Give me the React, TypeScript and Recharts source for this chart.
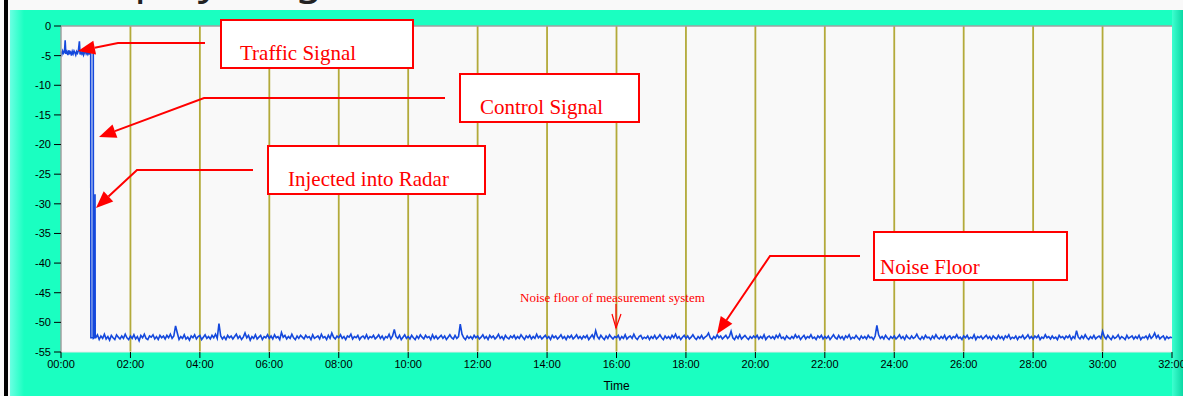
import React from "react";
import {
  LineChart,
  Line,
  XAxis,
  YAxis,
  CartesianGrid,
  ReferenceLine,
} from "recharts";

// traffic signal before the cut-over (minutes, dB)
const headTimes = [
  0, 0.025, 0.05, 0.075, 0.1, 0.12, 0.14, 0.17, 0.2, 0.225, 0.25, 0.275, 0.3, 0.325, 0.35, 0.375,
  0.4, 0.425, 0.45, 0.475, 0.5, 0.53, 0.55, 0.575, 0.6, 0.625, 0.65, 0.675, 0.7, 0.725, 0.75,
  0.775, 0.8, 0.83, 0.855, 0.86, 0.925, 0.93, 0.935, 0.975, 0.98, 0.985,
];
const headLevels = [
  -4.3, -4.8, -4.2, -4.6, -4.4, -2.4, -4.7, -4.3, -4.9, -4.1, -4.6, -4.4, -5.0, -4.3, -4.7, -4.2,
  -4.5, -4.9, -4.3, -4.6, -4.2, -2.6, -4.8, -4.4, -4.7, -4.3, -4.9, -4.5, -4.2, -4.7, -4.4,
  -4.8, -4.5, -4.7, -4.6, -52.6, -52.6, -4.6, -52.7, -52.5, -28.4, -52.6,
];

// noise floor, one reading every 0.05 min from 1:00 to 32:00 (one row per minute)
const FLOOR_START = 1.0;
const FLOOR_STEP = 0.05;
const floorLevels = [
  -52.6, -52.1, -52.9, -52.3, -52.7, -52.0, -52.8, -52.4, -53.0, -52.2, -52.6, -52.9, -52.1, -52.5, -52.8, -52.3, -52.7, -52.0, -52.6, -52.9,
  -52.3, -52.7, -52.1, -52.8, -52.4, -53.1, -52.2, -52.6, -52.0, -52.7, -52.9, -52.3, -52.5, -52.1, -52.8, -52.4, -52.9, -52.2, -52.6, -52.3,
  -52.8, -52.2, -52.6, -52.0, -52.7, -52.3, -50.6, -51.8, -52.9, -52.4, -52.7, -52.1, -52.8, -52.5, -53.0, -52.3, -52.6, -52.1, -52.8, -52.4,
  -52.2, -52.9, -52.5, -52.1, -52.7, -52.4, -52.8, -52.2, -52.6, -52.0, -52.7, -50.2, -52.3, -52.8, -52.4, -52.9, -52.2, -52.6, -52.3, -52.8,
  -52.4, -52.0, -52.7, -52.3, -52.9, -52.5, -51.8, -52.6, -52.2, -53.0, -52.4, -52.7, -52.1, -52.8, -52.5, -52.2, -52.9, -52.4, -52.6, -52.1,
  -52.7, -52.3, -52.8, -52.1, -52.6, -52.4, -52.9, -51.7, -52.5, -52.2, -52.8, -52.4, -52.7, -52.0, -52.6, -52.9, -52.3, -52.7, -52.2, -52.5,
  -52.8, -52.2, -52.6, -52.4, -52.9, -52.1, -52.7, -52.5, -52.3, -52.8, -52.0, -52.6, -52.4, -52.9, -52.2, -52.7, -51.8, -52.5, -52.8, -52.3,
  -52.6, -52.1, -52.7, -52.4, -52.9, -52.3, -52.5, -52.0, -52.8, -52.4, -52.6, -52.2, -52.9, -52.5, -52.3, -52.7, -52.1, -52.8, -52.4, -52.6,
  -52.2, -52.8, -52.5, -52.1, -52.7, -52.3, -52.9, -52.4, -52.6, -52.0, -52.8, -52.3, -51.2, -52.4, -52.7, -52.2, -52.9, -52.5, -52.1, -52.7,
  -52.4, -52.8, -52.2, -52.6, -52.9, -52.3, -52.7, -52.1, -52.5, -52.8, -52.2, -52.6, -52.4, -52.9, -52.1, -52.7, -52.3, -52.8, -52.5, -52.2,
  -52.7, -52.3, -52.9, -52.5, -52.1, -52.6, -52.8, -52.2, -52.7, -52.4, -50.3, -52.0, -52.6, -52.9, -52.3, -52.7, -52.4, -52.8, -52.2, -52.6,
  -52.3, -52.8, -52.5, -52.1, -52.7, -52.4, -52.9, -52.2, -52.6, -52.3, -52.8, -52.5, -52.0, -52.7, -52.4, -52.9, -52.2, -52.6, -52.8, -52.3,
  -52.6, -52.2, -52.8, -52.4, -52.7, -52.1, -52.5, -52.9, -52.3, -52.6, -52.2, -52.8, -52.4, -52.7, -52.0, -52.6, -52.3, -52.8, -52.5, -52.2,
  -52.7, -52.4, -52.9, -52.2, -52.6, -52.3, -52.8, -52.5, -52.1, -52.7, -52.4, -52.9, -52.3, -52.6, -52.2, -52.8, -52.5, -52.1, -52.7, -52.4,
  -52.8, -52.3, -52.6, -52.2, -52.9, -52.5, -52.1, -52.7, -51.4, -52.4, -52.8, -52.2, -52.6, -52.9, -52.3, -52.7, -52.1, -52.5, -52.8, -52.4,
  -52.6, -52.2, -52.9, -52.4, -52.7, -52.1, -52.8, -52.5, -52.3, -52.7, -52.0, -52.6, -52.9, -52.4, -52.2, -52.8, -52.5, -52.7, -52.3, -52.9,
  -52.4, -52.7, -52.2, -52.8, -52.5, -52.1, -52.6, -52.9, -52.3, -52.7, -52.4, -52.8, -52.2, -52.6, -52.0, -52.7, -52.4, -52.9, -52.5, -52.2,
  -52.7, -52.3, -52.8, -52.5, -52.1, -52.6, -52.9, -52.4, -52.7, -52.2, -52.8, -52.5, -52.3, -51.8, -52.6, -52.9, -52.4, -52.7, -52.1, -52.6,
  -52.3, -52.8, -52.5, -52.2, -52.7, -52.4, -51.5, -52.6, -52.9, -52.3, -52.7, -52.1, -52.8, -52.5, -52.2, -52.6, -52.9, -52.4, -52.7, -52.3,
  -52.6, -52.2, -52.8, -52.4, -52.7, -52.1, -52.9, -52.5, -52.3, -52.7, -52.4, -52.8, -52.2, -52.6, -52.0, -52.7, -52.5, -52.9, -52.3, -52.6,
  -52.8, -52.4, -52.7, -52.1, -52.6, -52.3, -52.9, -52.5, -52.2, -52.8, -52.4, -52.6, -52.1, -52.7, -52.5, -52.9, -52.3, -52.6, -52.2, -52.8,
  -52.4, -52.7, -52.3, -52.9, -52.5, -52.1, -52.6, -52.8, -52.2, -52.7, -52.4, -52.9, -52.3, -52.6, -52.1, -52.8, -52.5, -52.7, -52.2, -52.6,
  -52.9, -52.3, -52.7, -52.4, -52.8, -52.2, -52.6, -52.5, -52.9, -52.3, -50.5, -52.1, -52.7, -52.4, -52.8, -52.2, -52.6, -52.9, -52.4, -52.7,
  -52.3, -52.8, -52.5, -52.1, -52.7, -52.4, -52.9, -52.2, -52.6, -52.8, -52.3, -52.7, -52.5, -52.0, -52.6, -52.9, -52.4, -52.8, -52.2, -52.6,
  -52.5, -52.9, -52.3, -52.7, -52.1, -52.6, -52.8, -52.4, -52.7, -52.2, -52.9, -52.5, -52.3, -52.8, -52.4, -52.6, -52.1, -52.7, -52.5, -52.9,
  -52.3, -52.6, -52.2, -52.8, -52.5, -52.7, -52.1, -52.9, -52.4, -52.6, -52.3, -52.8, -52.5, -52.2, -52.7, -52.4, -52.9, -52.3, -52.6, -52.8,
  -52.2, -52.7, -52.4, -52.9, -52.3, -52.6, -52.1, -52.8, -52.5, -52.7, -52.3, -52.9, -52.4, -52.6, -52.2, -52.8, -52.5, -52.1, -52.7, -52.4,
  -52.8, -52.3, -52.6, -52.2, -52.9, -52.5, -52.7, -52.1, -52.6, -52.4, -52.8, -52.3, -52.7, -52.5, -52.9, -52.2, -52.6, -52.4, -52.8, -52.3,
  -52.6, -52.2, -52.9, -52.4, -52.7, -51.4, -52.5, -52.8, -52.3, -52.7, -52.1, -52.6, -52.9, -52.4, -52.7, -52.2, -52.8, -52.5, -52.3, -52.7,
  -51.5, -52.4, -52.8, -52.2, -52.6, -52.9, -52.3, -52.7, -52.5, -52.1, -52.8, -52.4, -52.6, -52.9, -52.2, -52.7, -52.5, -52.3, -52.8, -52.4,
  -52.7, -52.2, -52.9, -52.5, -52.6, -52.3, -52.8, -52.1, -52.7, -52.4, -51.8, -52.6, -52.2, -52.8, -52.5, -52.3, -52.9, -52.4, -52.7, -52.5,
  -52.6,
];

const timeTicks = [0, 2, 4, 6, 8, 10, 12, 14, 16, 18, 20, 22, 24, 26, 28, 30, 32];
const levelTicks = [0, -5, -10, -15, -20, -25, -30, -35, -40, -45, -50, -55];

const data = [
  ...headTimes.map((t, i) => ({ t, v: headLevels[i] })),
  ...floorLevels.map((v, i) => ({ t: +(FLOOR_START + i * FLOOR_STEP).toFixed(3), v })),
];

const fmtTime = (m: number) => `${String(m).padStart(2, "0")}:00`;

const RED = "#ff0000";
const serif = "'Liberation Serif', 'Times New Roman', serif";
const sans = "'Liberation Sans', Arial, sans-serif";

function Arrow({ pts, len = 17, half = 7 }: { pts: number[][]; len?: number; half?: number }) {
  const [x1, y1] = pts[pts.length - 2];
  const [x2, y2] = pts[pts.length - 1];
  const a = Math.atan2(y2 - y1, x2 - x1);
  const bx = x2 - len * Math.cos(a);
  const by = y2 - len * Math.sin(a);
  const nx = -Math.sin(a) * half;
  const ny = Math.cos(a) * half;
  const line = [...pts.slice(0, -1), [bx, by]].map((p) => p.join(",")).join(" ");
  return (
    <g>
      <polyline points={line} fill="none" stroke={RED} strokeWidth={2} />
      <polygon points={`${x2},${y2} ${bx + nx},${by + ny} ${bx - nx},${by - ny}`} fill={RED} />
    </g>
  );
}

function Note({ x, y, w, h, tx, ty, text }: { x: number; y: number; w: number; h: number; tx: number; ty: number; text: string }) {
  return (
    <g>
      <rect x={x} y={y} width={w} height={h} fill="#ffffff" stroke={RED} strokeWidth={2} />
      <text x={tx} y={ty} fill={RED} fontSize={21} fontFamily={serif}>
        {text}
      </text>
    </g>
  );
}

export default function App() {
  return (
    <div style={{ position: "absolute", left: 0, top: 0, width: 1183, height: 396, background: "#f9f9f9", overflow: "hidden" }}>
      {/* window chrome behind the chart */}
      <svg width={1183} height={396} style={{ position: "absolute", left: 0, top: 0 }}>
        <defs>
          <linearGradient id="leftEdge" x1="0" y1="0" x2="1" y2="0">
            <stop offset="0%" stopColor="#6affe2" />
            <stop offset="100%" stopColor="#1affc1" />
          </linearGradient>
          <linearGradient id="rightEdge" x1="0" y1="0" x2="1" y2="0">
            <stop offset="0%" stopColor="#3dffd0" />
            <stop offset="100%" stopColor="#0cd9a4" />
          </linearGradient>
        </defs>
        <text x={70} y={-7} fontSize={44} fontFamily="'Noto Sans', sans-serif" fill="#222" style={{ wordSpacing: 14 }}>
          Display Log
        </text>
        <rect x={4} y={0} width={4} height={396} fill="#000" />
        <rect x={10} y={10} width={1173} height={386} fill="#1affc1" />
        <rect x={10} y={10} width={14} height={386} fill="url(#leftEdge)" />
        <rect x={1172} y={10} width={11} height={386} fill="url(#rightEdge)" />
      </svg>

      <div style={{ position: "absolute", left: 0, top: 0 }}>
        <LineChart width={1183} height={396} data={data} margin={{ top: 26, right: 11, bottom: 8, left: 11 }}>
          <CartesianGrid horizontal={false} vertical={false} fill="#f9f9f9" />
          {timeTicks.slice(1, -1).map((t) => (
            <ReferenceLine key={t} x={t} stroke="#b3aa3a" strokeWidth={1.8} />
          ))}
          <ReferenceLine y={0} stroke="#a0a0a0" strokeWidth={1.5} />
          <XAxis
            dataKey="t"
            type="number"
            domain={[0, 32]}
            ticks={timeTicks}
            tickFormatter={fmtTime}
            height={36}
            axisLine={{ stroke: "#e8e8e8" }}
            tickLine={{ stroke: "#000" }}
            tickSize={6}
            tickMargin={2}
            tick={{ fill: "#000", fontSize: 11, fontFamily: sans }}
            interval={0}
            label={{ value: "Time", position: "insideBottom", offset: -2, fill: "#000", fontSize: 12, fontFamily: sans }}
          />
          <YAxis
            type="number"
            domain={[-55, 0]}
            ticks={levelTicks}
            width={50}
            axisLine={{ stroke: "#a0a0a0", strokeWidth: 1.5 }}
            tickLine={{ stroke: "#000" }}
            tickSize={7}
            tickMargin={3}
            tick={{ fill: "#000", fontSize: 11, fontFamily: sans }}
            interval={0}
          />
          <Line
            type="linear"
            dataKey="v"
            stroke="#1448dc"
            strokeWidth={1.6}
            dot={false}
            isAnimationActive={false}
          />
        </LineChart>
      </div>

      {/* red call-outs laid over the plot */}
      <svg width={1183} height={396} style={{ position: "absolute", left: 0, top: 0, pointerEvents: "none" }}>
        <Arrow pts={[[205, 43], [118, 43], [78, 51]]} />
        <Note x={221} y={20} w={192} h={48} tx={240} ty={60} text="Traffic Signal" />

        <Arrow pts={[[445, 98], [204, 98], [99, 137]]} />
        <Note x={460} y={74} w={179} h={48} tx={480} ty={114} text="Control Signal" />

        <Arrow pts={[[253, 170], [137, 170], [96, 208]]} />
        <Note x={268} y={146} w={217} h={48} tx={288} ty={186} text="Injected into Radar" />

        <Arrow pts={[[860, 256], [770, 256], [717, 334]]} />
        <Note x={874} y={232} w={193} h={48} tx={880} ty={274} text="Noise Floor" />

        <text x={520} y={302} fill={RED} fontSize={13} fontFamily={serif}>
          Noise floor of measurement system
        </text>
        <polyline points="616,304 616,328" fill="none" stroke={RED} strokeWidth={1.2} />
        <polyline points="612,314 616,328 621,314" fill="none" stroke={RED} strokeWidth={1.2} />
      </svg>
    </div>
  );
}
